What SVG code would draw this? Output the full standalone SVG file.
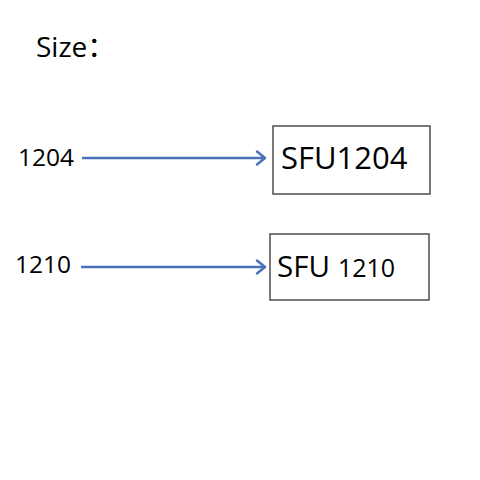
<svg xmlns="http://www.w3.org/2000/svg" width="480" height="480" viewBox="0 0 480 480">
<style>
text{font-family:"Open Sans","Noto Sans CJK SC",sans-serif;fill:#000}
.box{fill:#fff;stroke:#333;stroke-width:1.3}
.arr{stroke:#4a72b8;stroke-width:2.5;fill:none}
.head{stroke:#4a72b8;stroke-width:2.5;fill:none;stroke-linecap:round;stroke-linejoin:round}
</style>
<rect width="480" height="480" fill="#fff"/>
<text x="36" y="57" font-size="28">Size：</text>
<g id="src1204"><text x="18" y="166" font-size="24.5">1204</text></g>
<g id="src1210"><text x="15" y="273" font-size="24.5">1210</text></g>
<g id="n1204"><rect class="box" x="273" y="126" width="157" height="68"/><text x="281" y="169" font-size="31">SFU1204</text></g>
<g id="n1210"><rect class="box" x="270" y="234" width="159" height="66"/><text x="277" y="277" font-size="29.5">SFU<tspan font-size="25" dx="8">1210</tspan></text></g>
<g id="connectors">
<line class="arr" x1="82" y1="158" x2="264" y2="158"/>
<polyline class="head" points="257,151.5 265,158 257,164.5"/>
<line class="arr" x1="81" y1="267" x2="264" y2="267"/>
<polyline class="head" points="257,260.5 265,267 257,273.5"/>
</g>
</svg>
